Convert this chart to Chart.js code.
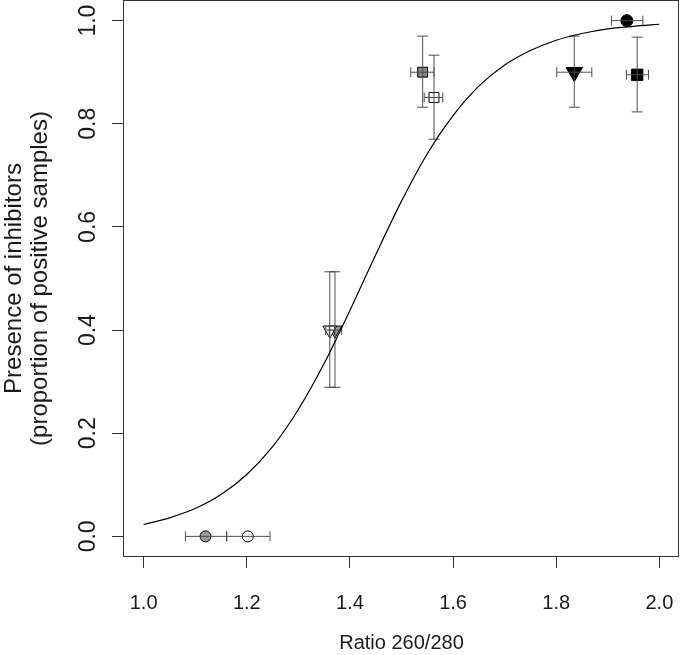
<!DOCTYPE html>
<html>
<head>
<meta charset="utf-8">
<script src="https://cdn.jsdelivr.net/npm/chart.js@4.4.0/dist/chart.umd.min.js"></script>
<style>
  html, body { margin: 0; padding: 0; background: #fff; overflow: hidden; }
  #wrap { width: 680px; height: 655px; position: relative; }
</style>
</head>
<body>
<div id="wrap"><canvas id="chart"></canvas></div>
<script>
// ── Data ──────────────────────────────────────────────────
const xTicks = [1.0, 1.2, 1.4, 1.6, 1.8, 2.0];
const yTicks = [0.0, 0.2, 0.4, 0.6, 0.8, 1.0];

// one entry per sample group
const ratio    = [1.120, 1.202, 1.361, 1.371, 1.541, 1.563, 1.835, 1.957, 1.937];
const ratioLo  = [1.081, 1.161, 1.353, 1.360, 1.518, 1.544, 1.801, 1.936, 1.907];
const ratioHi  = [1.161, 1.245, 1.370, 1.384, 1.563, 1.580, 1.869, 1.979, 1.968];
const presence = [0.000, 0.000, 0.400, 0.400, 0.900, 0.851, 0.900, 0.895, 1.000];
const presLo   = [null,  null,  0.289, 0.289, 0.832, 0.770, 0.832, 0.823, null];
const presHi   = [null,  null,  0.513, 0.513, 0.970, 0.933, 0.970, 0.968, null];

// fitted curve
const fitX = [1.00, 1.05, 1.10, 1.15, 1.20, 1.25, 1.30, 1.35, 1.40, 1.45, 1.50,
              1.55, 1.60, 1.65, 1.70, 1.75, 1.80, 1.85, 1.90, 1.95, 2.00];
const fitY = [0.023, 0.036, 0.054, 0.081, 0.120, 0.174, 0.246, 0.335, 0.438, 0.546, 0.650,
              0.742, 0.816, 0.873, 0.914, 0.942, 0.962, 0.975, 0.984, 0.989, 0.993];

// ── Styles ────────────────────────────────────────────────
const FONT = 'Arial, "Liberation Sans", sans-serif';
const INK = '#1a1a1a';
const BAR = '#4d4d4d';
const markers = [
  { style: 'circle',   fill: '#9a9a9a', r: 5.5, rot: 0 },
  { style: 'circle',   fill: '#ffffff', r: 5.5, rot: 0 },
  { style: 'triangle', fill: '#ffffff', r: 8,   rot: 180 },
  { style: 'triangle', fill: '#9a9a9a', r: 8,   rot: 180 },
  { style: 'rect',     fill: '#858585', r: 7,   rot: 0 },
  { style: 'rect',     fill: '#ffffff', r: 7,   rot: 0 },
  { style: 'triangle', fill: '#000000', r: 9.5, rot: 180 },
  { style: 'rect',     fill: '#000000', r: 8,   rot: 0 },
  { style: 'circle',   fill: '#000000', r: 6,   rot: 0 },
];

const datasets = [];

// markers, drawn underneath the error bars (higher order = drawn earlier)
ratio.forEach((x, i) => {
  const m = markers[i];
  datasets.push({
    data: [{ x, y: presence[i] }],
    pointStyle: m.style, pointRadius: m.r, pointRotation: m.rot,
    pointBackgroundColor: m.fill, pointBorderColor: '#000', pointBorderWidth: 1,
    showLine: false, order: 3,
  });
});

// horizontal error bars (caps are vertical 'line' points)
ratio.forEach((x, i) => {
  datasets.push({
    data: [{ x: ratioLo[i], y: presence[i] }, { x: ratioHi[i], y: presence[i] }],
    showLine: true, borderColor: BAR, borderWidth: 1,
    pointStyle: 'line', pointRotation: 90, pointRadius: 5,
    pointBorderColor: BAR, pointBorderWidth: 1, order: 2,
  });
});

// vertical error bars
ratio.forEach((x, i) => {
  if (presLo[i] == null) return;
  datasets.push({
    data: [{ x, y: presLo[i] }, { x, y: presHi[i] }],
    showLine: true, borderColor: BAR, borderWidth: 1,
    pointStyle: 'line', pointRotation: 0, pointRadius: 5.5,
    pointBorderColor: BAR, pointBorderWidth: 1, order: 2,
  });
});

// fitted curve
datasets.push({
  data: fitX.map((x, i) => ({ x, y: fitY[i] })),
  showLine: true, borderColor: '#000', borderWidth: 1.2,
  pointRadius: 0, cubicInterpolationMode: 'monotone', order: 1,
});

// R-style box around the plot region + rotated y tick labels
const boxAndLabels = {
  id: 'boxAndLabels',
  afterDraw(chart) {
    const { ctx, chartArea: a } = chart;
    ctx.save();
    ctx.strokeStyle = '#333';
    ctx.lineWidth = 1;
    ctx.strokeRect(Math.round(a.left) + 0.5, Math.round(a.top) + 0.5,
                   Math.round(a.right - a.left) - 2, Math.round(a.bottom - a.top) - 1);

    const ys = chart.scales.y;
    ctx.fillStyle = INK;
    ctx.font = '23px ' + FONT;
    ctx.textAlign = 'center';
    ctx.textBaseline = 'middle';
    ys.ticks.forEach(t => {
      ctx.save();
      ctx.translate(89, ys.getPixelForValue(t.value));
      ctx.rotate(-Math.PI / 2);
      ctx.fillText(t.value.toFixed(1), 0, 0);
      ctx.restore();
    });
    ctx.restore();
  },
};

const noPad = s => { s.paddingLeft = 0; s.paddingRight = 0; s.paddingTop = 0; s.paddingBottom = 0; };

new Chart(document.getElementById('chart'), {
  type: 'scatter',
  data: { datasets },
  plugins: [boxAndLabels],
  options: {
    responsive: true,
    maintainAspectRatio: false,
    animation: false,
    events: [],
    layout: { padding: 0, autoPadding: false },
    plugins: { legend: { display: false }, tooltip: { enabled: false } },
    scales: {
      x: {
        type: 'linear', min: 0.96, max: 2.04,
        afterBuildTicks: s => { s.ticks = xTicks.map(v => ({ value: v })); },
        afterFit: s => { s.height = 98; noPad(s); },
        border: { display: false },
        grid: { drawOnChartArea: false, drawTicks: true, tickLength: 11, color: '#333' },
        ticks: {
          color: INK, font: { family: FONT, size: 20 }, padding: 23,
          maxRotation: 0, autoSkip: false,
          callback: v => v.toFixed(1),
        },
        title: {
          display: true, text: 'Ratio 260/280', color: INK,
          font: { family: FONT, size: 20 }, padding: { top: 0, bottom: 0 },
        },
      },
      y: {
        type: 'linear', min: -0.04, max: 1.04,
        afterBuildTicks: s => { s.ticks = yTicks.map(v => ({ value: v })); },
        afterFit: s => { s.width = 123; noPad(s); },
        border: { display: false },
        grid: { drawOnChartArea: false, drawTicks: true, tickLength: 11, color: '#333' },
        ticks: { display: false },
        title: {
          display: true,
          text: ['Presence of inhibitors', '(proportion of positive samples)'],
          color: INK,
          font: { family: FONT, size: 24, lineHeight: 1.083 },
          padding: { top: 1, bottom: 0 },
        },
      },
    },
  },
});
</script>
</body>
</html>
